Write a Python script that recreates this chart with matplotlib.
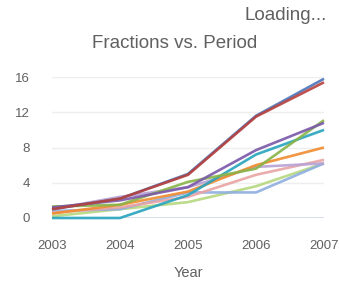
import numpy as np
import matplotlib
matplotlib.use('Agg')
import matplotlib.pyplot as plt

plt.rcParams['font.family'] = ['Liberation Sans', 'DejaVu Sans']

years = [2003, 2004, 2005, 2006, 2007]

series_blue = [1.0, 2.2, 5.0, 11.6, 15.8]
series_red = [1.0, 2.2, 4.9, 11.5, 15.4]
series_purple = [1.2, 2.0, 3.5, 7.7, 10.8]
series_green = [1.3, 1.5, 4.1, 5.6, 11.1]
series_teal = [0.0, 0.0, 2.6, 7.2, 10.0]
series_orange = [0.5, 1.5, 3.0, 6.0, 8.0]
series_lavender = [1.0, 2.4, 3.5, 5.8, 6.2]
series_pink = [0.6, 1.2, 2.4, 4.9, 6.6]
series_lightblue = [0.8, 1.0, 2.9, 2.9, 6.2]
series_lightgreen = [0.2, 1.0, 1.8, 3.6, 6.2]

all_series = [
    (series_lightgreen, '#b5d77f'),
    (series_lightblue, '#8eaee0'),
    (series_pink, '#e8a3a3'),
    (series_lavender, '#b8a2d6'),
    (series_orange, '#f08b2e'),
    (series_teal, '#27a3bd'),
    (series_green, '#88b447'),
    (series_purple, '#7a58a8'),
    (series_blue, '#4c74b8'),
    (series_red, '#b8403c'),
]

fig = plt.figure(figsize=(3.39, 2.83), dpi=100)
ax = fig.add_axes([52/339, 65/283, 272/339, 141/283])

for vals, c in all_series:
    ax.plot(years, vals, color=c, lw=1.9, alpha=0.9, clip_on=False, solid_capstyle='butt')

ax.set_xlim(2003, 2007)
ax.set_ylim(0, 16)
ax.set_yticks([0, 4, 8, 12, 16])
ax.set_xticks(years)
ax.grid(axis='y', color='#eeeeee', lw=1)
ax.set_axisbelow(True)
for s in ax.spines.values():
    s.set_visible(False)
ax.axhline(0, color='#c8d6e6', lw=1.2, zorder=0.5)
ax.tick_params(length=0, labelsize=9.5, colors='#606060')
ax.tick_params(axis='y', pad=16)
ax.tick_params(axis='x', pad=16)
ax.set_xlabel('Year', fontsize=10.5, color='#606060', labelpad=10)

fig.text(327/339, 1 - 16/283, 'Loading...', ha='right', va='center', fontsize=13.5, color='#606060')
fig.text(175/339, 1 - 43/283, 'Fractions vs. Period', ha='center', va='center', fontsize=13.5, color='#606060')

fig.savefig('out.png', dpi=100)
